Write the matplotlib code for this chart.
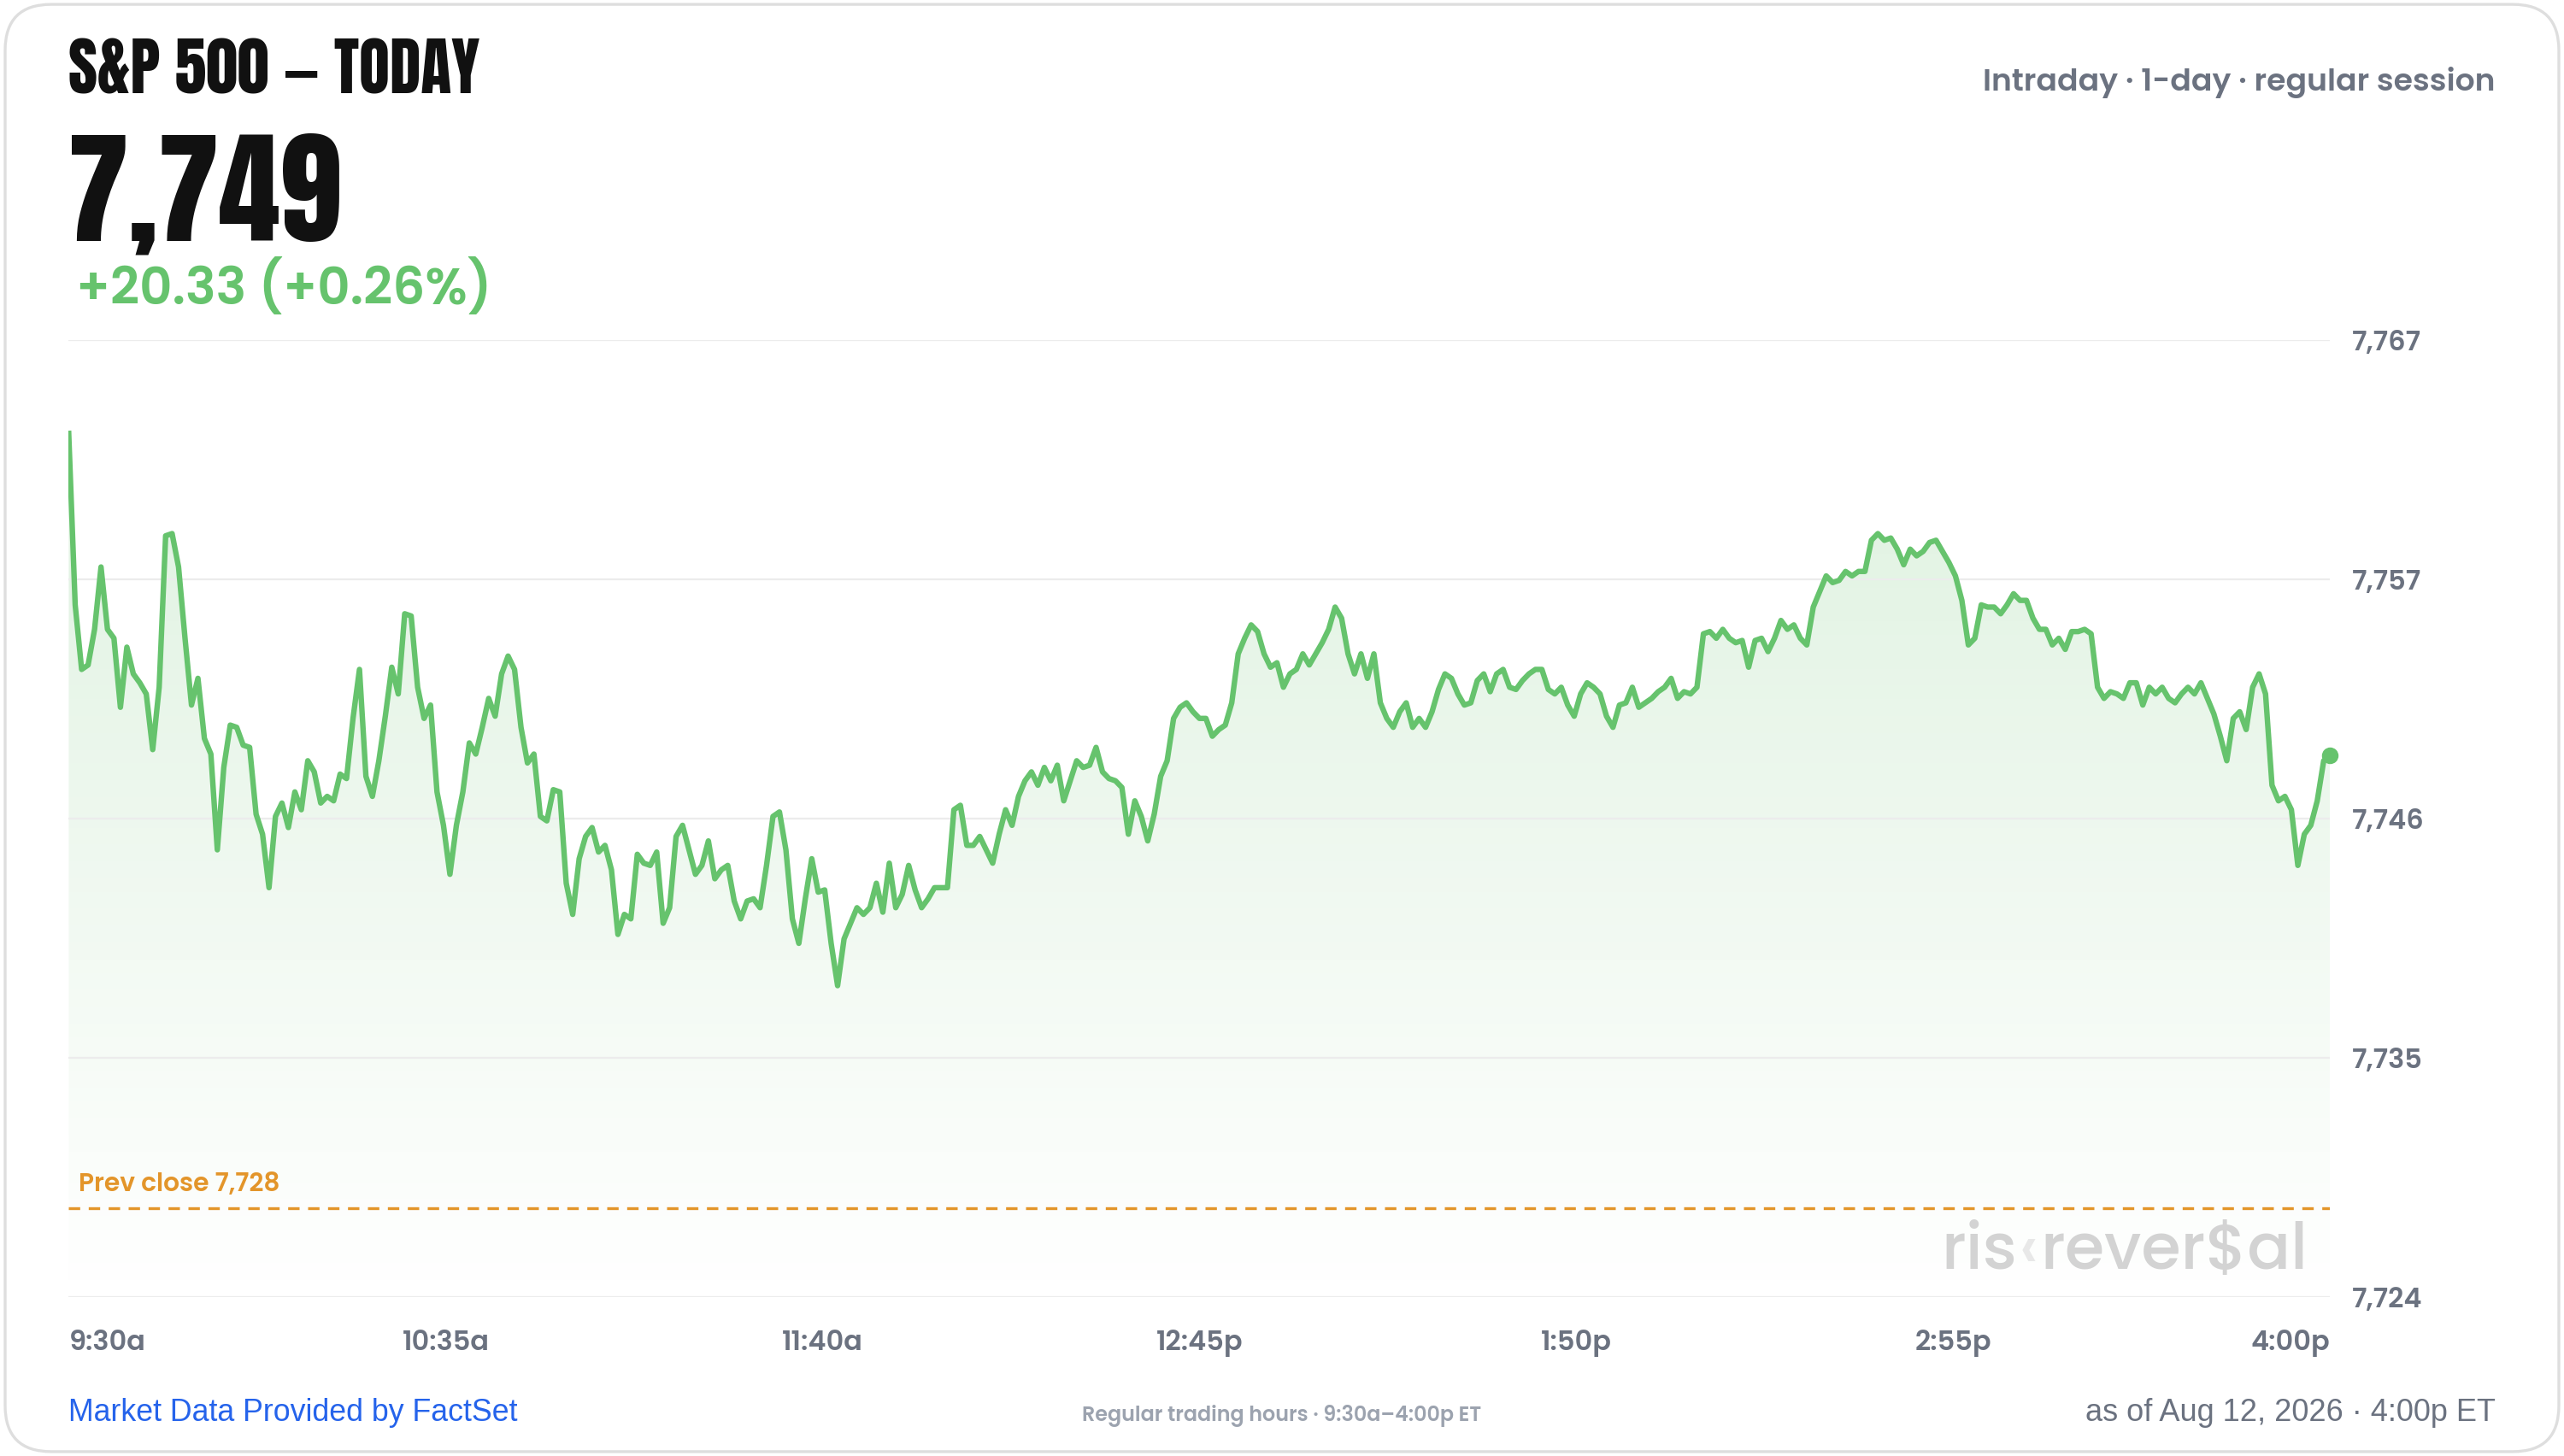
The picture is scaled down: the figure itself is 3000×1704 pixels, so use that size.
import numpy as np
import matplotlib
matplotlib.use("Agg")
import matplotlib.pyplot as plt
from matplotlib.patches import FancyBboxPatch
from matplotlib.colors import LinearSegmentedColormap
from matplotlib.transforms import offset_copy

# S&P 500 intraday prices, ~1 per minute, 9:30a -> 4:00p
price = [
    7762.8, 7755.1, 7752.2, 7752.4, 7754.0, 7756.8, 7754.0, 7753.6, 7750.5, 7753.2,
    7752.0, 7751.6, 7751.1, 7748.6, 7751.4, 7758.2, 7758.3, 7756.8, 7753.6, 7750.6,
    7751.8, 7749.1, 7748.4, 7744.1, 7747.8, 7749.7, 7749.6, 7748.8, 7748.7, 7745.7,
    7744.8, 7742.4, 7745.6, 7746.2, 7745.1, 7746.7, 7745.9, 7748.1, 7747.6, 7746.2,
    7746.5, 7746.3, 7747.5, 7747.3, 7750.0, 7752.2, 7747.4, 7746.5, 7748.1, 7750.1,
    7752.3, 7751.1, 7754.7, 7754.6, 7751.4, 7750.0, 7750.6, 7746.7, 7745.2, 7743.0,
    7745.2, 7746.7, 7748.9, 7748.4, 7749.6, 7750.9, 7750.1, 7752.0, 7752.8, 7752.2,
    7749.6, 7748.0, 7748.4, 7745.6, 7745.4, 7746.8, 7746.7, 7742.6, 7741.2, 7743.7,
    7744.7, 7745.1, 7744.0, 7744.3, 7743.2, 7740.3, 7741.2, 7741.0, 7743.9, 7743.5,
    7743.4, 7744.0, 7740.8, 7741.5, 7744.7, 7745.2, 7744.1, 7743.0, 7743.4, 7744.5,
    7742.8, 7743.2, 7743.4, 7741.8, 7741.0, 7741.8, 7741.9, 7741.5, 7743.4, 7745.6,
    7745.8, 7744.1, 7741.0, 7739.9, 7741.9, 7743.7, 7742.2, 7742.3, 7739.9, 7738.0,
    7740.1, 7740.8, 7741.5, 7741.2, 7741.5, 7742.6, 7741.3, 7743.5, 7741.5, 7742.1,
    7743.4, 7742.3, 7741.5, 7741.9, 7742.4, 7742.4, 7742.4, 7745.9, 7746.1, 7744.3,
    7744.3, 7744.7, 7744.1, 7743.5, 7744.8, 7745.9, 7745.2, 7746.5, 7747.2, 7747.6,
    7747.0, 7747.8, 7747.2, 7747.9, 7746.3, 7747.2, 7748.1, 7747.8, 7747.9, 7748.7,
    7747.6, 7747.3, 7747.2, 7746.9, 7744.8, 7746.3, 7745.6, 7744.5, 7745.7, 7747.4,
    7748.1, 7750.0, 7750.5, 7750.7, 7750.3, 7750.0, 7750.0, 7749.2, 7749.5, 7749.7,
    7750.7, 7752.9, 7753.6, 7754.2, 7753.9, 7752.9, 7752.3, 7752.5, 7751.4, 7752.0,
    7752.2, 7752.9, 7752.4, 7752.9, 7753.4, 7754.0, 7755.0, 7754.5, 7752.9, 7752.0,
    7752.9, 7751.8, 7752.9, 7750.7, 7750.0, 7749.6, 7750.3, 7750.7, 7749.6, 7750.0,
    7749.6, 7750.3, 7751.3, 7752.0, 7751.8, 7751.1, 7750.6, 7750.7, 7751.7, 7752.0,
    7751.2, 7752.0, 7752.2, 7751.4, 7751.3, 7751.7, 7752.0, 7752.2, 7752.2, 7751.3,
    7751.1, 7751.4, 7750.6, 7750.1, 7751.1, 7751.6, 7751.4, 7751.1, 7750.1, 7749.6,
    7750.6, 7750.7, 7751.4, 7750.5, 7750.7, 7750.9, 7751.2, 7751.4, 7751.8, 7750.9,
    7751.2, 7751.1, 7751.4, 7753.8, 7753.9, 7753.6, 7754.0, 7753.6, 7753.4, 7753.5,
    7752.3, 7753.5, 7753.6, 7753.0, 7753.6, 7754.4, 7754.0, 7754.2, 7753.6, 7753.3,
    7755.0, 7755.7, 7756.4, 7756.1, 7756.2, 7756.6, 7756.4, 7756.6, 7756.6, 7758.0,
    7758.3, 7758.0, 7758.1, 7757.6, 7756.9, 7757.6, 7757.3, 7757.5, 7757.9, 7758.0,
    7757.5, 7757.0, 7756.4, 7755.3, 7753.3, 7753.6, 7755.1, 7755.0, 7755.0, 7754.7,
    7755.1, 7755.6, 7755.3, 7755.3, 7754.5, 7754.0, 7754.0, 7753.3, 7753.6, 7753.1,
    7753.9, 7753.9, 7754.0, 7753.8, 7751.4, 7750.9, 7751.2, 7751.1, 7750.9, 7751.6,
    7751.6, 7750.6, 7751.4, 7751.1, 7751.4, 7750.9, 7750.7, 7751.1, 7751.4, 7751.1,
    7751.6, 7750.9, 7750.2, 7749.2, 7748.1, 7750.0, 7750.3, 7749.5, 7751.4, 7752.0,
    7751.1, 7747.0, 7746.3, 7746.5, 7745.9, 7743.4, 7744.8, 7745.2, 7746.3, 7748.1,
    7748.33,
]

prev_close = 7728
y_ticks_lbl = ["7,724", "7,735", "7,746", "7,757", "7,767"]
x_ticks_min = [0, 65, 130, 195, 260, 325, 390]
x_ticks_lbl = ["9:30a", "10:35a", "11:40a", "12:45p", "1:50p", "2:55p", "4:00p"]

GREEN = "#66c36d"
GRAY = "#6b7280"
ORANGE = "#e3952a"
POP = ["Poppins", "Lato", "DejaVu Sans"]
COND = ["Anton", "Oswald", "DejaVu Sans"]
ARIAL = ["Liberation Sans", "DejaVu Sans"]

t = np.linspace(0, 390, len(price))
price = np.array(price)

fig = plt.figure(figsize=(15, 8.52), dpi=200)
fig.patch.set_facecolor("white")

# card border
card = FancyBboxPatch((0.002, 0.003), 0.996, 0.994, boxstyle="round,pad=0,rounding_size=0.018",
                      transform=fig.transFigure, facecolor="none", edgecolor="#dedede", lw=1.2,
                      mutation_aspect=1568 / 891, zorder=-5)
fig.patches.append(card)

ax = fig.add_axes([0.0268, 0.1089, 0.882, 0.6577])
ax.set_xlim(0, 390)
ax.set_ylim(7724, 7767)
ax.set_facecolor("none")
for s in ax.spines.values():
    s.set_visible(False)

yt = np.linspace(7724, 7767, 5)
ax.set_yticks(yt)
ax.set_yticklabels(y_ticks_lbl)
ax.yaxis.tick_right()
ax.grid(axis="y", color="#ececec", lw=0.8, zorder=0)
ax.tick_params(axis="y", length=0, pad=9, labelsize=11.5, labelcolor=GRAY)
ax.set_xticks(x_ticks_min)
ax.set_xticklabels(x_ticks_lbl)
ax.tick_params(axis="x", length=0, pad=13.5, labelsize=11.5, labelcolor=GRAY)
for lbl in ax.get_xticklabels() + ax.get_yticklabels():
    lbl.set_fontfamily(POP)
    lbl.set_fontweight("semibold")
xl = ax.get_xticklabels()
xl[0].set_ha("left")
xl[-1].set_ha("right")

# gradient fill under the line
cmap = LinearSegmentedColormap.from_list("g", [(0.4, 0.76, 0.43, 0.0), (0.4, 0.76, 0.43, 0.21)])
poly = ax.fill_between(t, price, 7724, color="none", lw=0)
grad = np.linspace(0, 1, 256).reshape(-1, 1)
im = ax.imshow(grad, aspect="auto", cmap=cmap, origin="lower",
               extent=[0, 390, 7724, price.max()], zorder=1)
im.set_clip_path(poly.get_paths()[0], transform=ax.transData)

ax.plot(t, price, color=GREEN, lw=2.3, zorder=3, solid_joinstyle="round")
ax.plot(t[-1], price[-1], "o", color=GREEN, ms=6, zorder=4, clip_on=False)

# previous close
ax.axhline(prev_close, color=ORANGE, lw=1.2, ls=(0, (4, 3)), zorder=2)
ax.annotate("Prev close 7,728", (1.7, prev_close), xytext=(0, 4.5), textcoords="offset points",
            color=ORANGE, fontsize=10.7, fontweight="semibold", va="bottom", family=POP)

ax.set_xlim(0, 390)
ax.set_ylim(7724, 7767)

# watermark: ris < rever$al
wm_x, wm_y = 386.2, 7725.3
w2 = ax.text(wm_x, wm_y, "rever$al", ha="right", va="baseline", fontsize=27,
             color="#d3d3d3", family=POP, fontweight="medium", zorder=2)
fig.canvas.draw()
r = fig.canvas.get_renderer()
bb = w2.get_window_extent(r)
tr = offset_copy(ax.transData, fig=fig, x=-(bb.width / fig.dpi) * 72 - 1, y=0, units="points")
w1 = ax.text(wm_x, wm_y, "\u2039", ha="right", va="baseline", fontsize=27, color="#e8e8e8",
             family=POP, fontweight="medium", zorder=2, transform=tr)
bb1 = w1.get_window_extent(r)
tr2 = offset_copy(ax.transData, fig=fig, x=-((bb.width + bb1.width) / fig.dpi) * 72 - 2, y=0,
                  units="points")
ax.text(wm_x, wm_y, "ris", ha="right", va="baseline", fontsize=27, color="#d3d3d3",
        family=POP, fontweight="medium", zorder=2, transform=tr2)

# header
fig.text(0.0268, 0.936, "S&P 500 \u2014 TODAY", fontsize=26.6, color="#111111",
         family=COND, va="baseline")
fig.text(0.0262, 0.835, "7,749", fontsize=52, color="#111111",
         family=COND, va="baseline")
fig.text(0.0296, 0.791, "+20.33 (+0.26%)", fontsize=21.4, fontweight="semibold", color=GREEN,
         family=POP, va="baseline")
fig.text(0.9732, 0.938, "Intraday \u00b7 1-day \u00b7 regular session", fontsize=13,
         fontweight="semibold", color=GRAY, ha="right", va="baseline", family=POP)

# footer
fig.text(0.0268, 0.024, "Market Data Provided by FactSet", fontsize=12.9, color="#2563eb",
         family=ARIAL, va="baseline")
fig.text(0.5, 0.024, "Regular trading hours \u00b7 9:30a\u20134:00p ET", fontsize=8.6,
         fontweight="semibold", color="#9ca3af", ha="center", va="baseline", family=POP)
fig.text(0.9732, 0.024, "as of Aug 12, 2026 \u00b7 4:00p ET", fontsize=13, color=GRAY,
         ha="right", va="baseline", family=ARIAL)

fig.savefig("out.png", dpi=200, facecolor="white")
